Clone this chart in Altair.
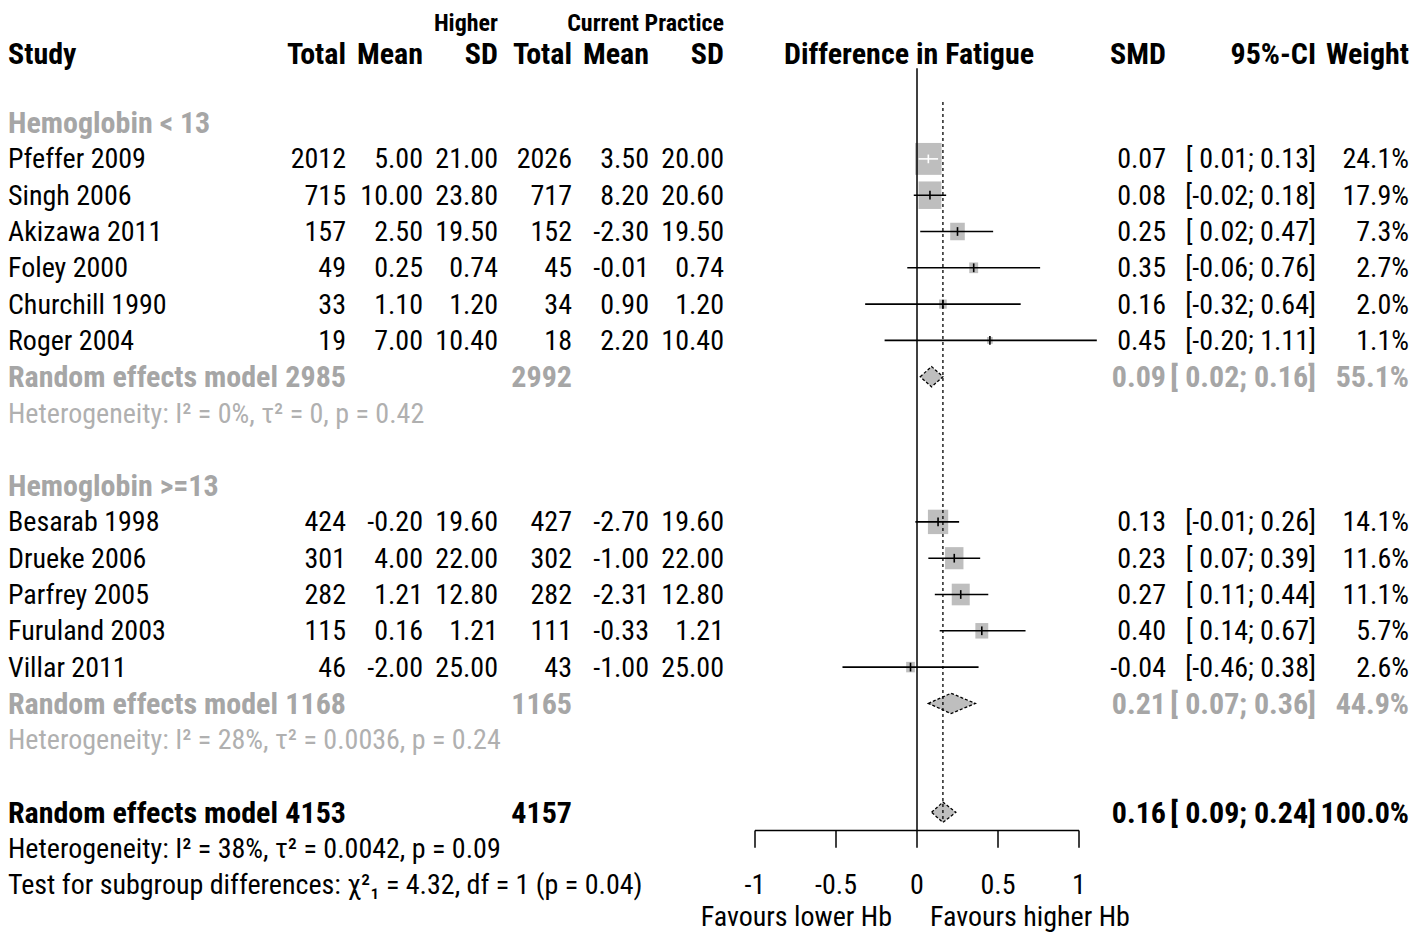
import altair as alt
import pandas as pd
import math

# ---------------- data ----------------
studies = ["Pfeffer 2009", "Singh 2006", "Akizawa 2011", "Foley 2000", "Churchill 1990", "Roger 2004",
           "Besarab 1998", "Drueke 2006", "Parfrey 2005", "Furuland 2003", "Villar 2011"]
n_high = [2012, 715, 157, 49, 33, 19, 424, 301, 282, 115, 46]
mean_high = [5.00, 10.00, 2.50, 0.25, 1.10, 7.00, -0.20, 4.00, 1.21, 0.16, -2.00]
sd_high = [21.00, 23.80, 19.50, 0.74, 1.20, 10.40, 19.60, 22.00, 12.80, 1.21, 25.00]
n_cur = [2026, 717, 152, 45, 34, 18, 427, 302, 282, 111, 43]
mean_cur = [3.50, 8.20, -2.30, -0.01, 0.90, 2.20, -2.70, -1.00, -2.31, -0.33, -1.00]
sd_cur = [20.00, 20.60, 19.50, 0.74, 1.20, 10.40, 19.60, 22.00, 12.80, 1.21, 25.00]
smd = [0.07, 0.08, 0.25, 0.35, 0.16, 0.45, 0.13, 0.23, 0.27, 0.40, -0.04]
lower = [0.01, -0.02, 0.02, -0.06, -0.32, -0.20, -0.01, 0.07, 0.11, 0.14, -0.46]
upper = [0.13, 0.18, 0.47, 0.76, 0.64, 1.11, 0.26, 0.39, 0.44, 0.67, 0.38]
weight = [24.1, 17.9, 7.3, 2.7, 2.0, 1.1, 14.1, 11.6, 11.1, 5.7, 2.6]

subgroups = ["Hemoglobin < 13", "Hemoglobin >=13"]
pooled_label = ["Random effects model", "Random effects model", "Random effects model"]
pooled_n_high = [2985, 1168, 4153]
pooled_n_cur = [2992, 1165, 4157]
pooled_smd = [0.09, 0.21, 0.16]
pooled_lower = [0.02, 0.07, 0.09]
pooled_upper = [0.16, 0.36, 0.24]
pooled_weight = [55.1, 44.9, 100.0]
het_texts = ["Heterogeneity: I² = 0%, τ² = 0, p = 0.42",
             "Heterogeneity: I² = 28%, τ² = 0.0036, p = 0.24",
             "Heterogeneity: I² = 38%, τ² = 0.0042, p = 0.09"]
test_text = "Test for subgroup differences: χ²₁ = 4.32, df = 1 (p = 0.04)"
overall_smd = 0.16
axis_ticks = [-1, -0.5, 0, 0.5, 1]
tick_labels = ["-1", "-0.5", "0", "0.5", "1"]
favours = ["Favours lower Hb", "Favours higher Hb"]

# ---------------- layout ----------------
W, H = 1402, 927
PX0, PXU = 909.0, 162.0          # pixel of SMD 0, pixels per SMD unit
RY0, RYU = 42.0, 36.3            # pixel of row 0, pixels per row
x_dom = [(0 - PX0) / PXU, (W - PX0) / PXU]
y_dom = [(0 - RY0) / RYU, (H - RY0) / RYU]
xs = alt.Scale(domain=x_dom, nice=False, zero=False)
ys = alt.Scale(domain=y_dom, nice=False, zero=False, reverse=True)

group_header_row = -0.72
col_header_row = 0.10
study_rows = [3, 4, 5, 6, 7, 8, 13, 14, 15, 16, 17]
sub_rows = [2, 12]
pooled_rows = [9, 18, 21]
het_rows = [10, 19, 22]
test_row = 23
favours_row = 23.88
col_px = {"study": 0, "n1": 338, "m1": 415, "s1": 490, "n2": 564, "m2": 641, "s2": 716,
          "smd": 1158, "ci": 1308, "w": 1401}

FONT = "Liberation Sans Narrow, Arial Narrow, Roboto Condensed, DejaVu Sans Condensed, sans-serif"
FS = 28
FSB = 30
FSH = 24
BLACK = "#000000"
GRAY = "#a6a6a6"
HGRAY = "#b0b0b0"
BOXGRAY = "#bebebe"


def px2x(p):
    return (p - PX0) / PXU


def fmt_ci(lo, up):
    a = f"[ {lo:.2f}" if lo >= 0 else f"[{lo:.2f}"
    return f"{a}; {up:.2f}]"


cells = []


def add(align, bold, row, x, text, color=BLACK):
    cells.append(dict(al=align, bd=bold, row=row, x=x, text=text, color=color))


# column headers
add("left", True, col_header_row, px2x(0), "Study")
for k, t in [("n1", "Total"), ("m1", "Mean"), ("s1", "SD"), ("n2", "Total"), ("m2", "Mean"), ("s2", "SD"),
             ("smd", "SMD"), ("ci", "95%-CI"), ("w", "Weight")]:
    add("right", True, col_header_row, px2x(col_px[k]), t)
add("center", True, col_header_row, px2x(901), "Difference in Fatigue")

for r, s in zip(sub_rows, subgroups):
    add("left", True, r, px2x(0), s, GRAY)

for i, r in enumerate(study_rows):
    add("left", False, r, px2x(0), studies[i])
    add("right", False, r, px2x(col_px["n1"]), str(n_high[i]))
    add("right", False, r, px2x(col_px["m1"]), f"{mean_high[i]:.2f}")
    add("right", False, r, px2x(col_px["s1"]), f"{sd_high[i]:.2f}")
    add("right", False, r, px2x(col_px["n2"]), str(n_cur[i]))
    add("right", False, r, px2x(col_px["m2"]), f"{mean_cur[i]:.2f}")
    add("right", False, r, px2x(col_px["s2"]), f"{sd_cur[i]:.2f}")
    add("right", False, r, px2x(col_px["smd"]), f"{smd[i]:.2f}")
    add("right", False, r, px2x(col_px["ci"]), fmt_ci(lower[i], upper[i]))
    add("right", False, r, px2x(col_px["w"]), f"{weight[i]:.1f}%")

for j, r in enumerate(pooled_rows):
    c = GRAY if j < 2 else BLACK
    add("left", True, r, px2x(0), pooled_label[j], c)
    add("right", True, r, px2x(col_px["n1"]), str(pooled_n_high[j]), c)
    add("right", True, r, px2x(col_px["n2"]), str(pooled_n_cur[j]), c)
    add("right", True, r, px2x(col_px["smd"]), f"{pooled_smd[j]:.2f}", c)
    add("right", True, r, px2x(col_px["ci"]), fmt_ci(pooled_lower[j], pooled_upper[j]), c)
    add("right", True, r, px2x(col_px["w"]), f"{pooled_weight[j]:.1f}%", c)

for j, r in enumerate(het_rows):
    add("left", False, r, px2x(0), het_texts[j], HGRAY if j < 2 else BLACK)
add("left", False, test_row, px2x(0), test_text)

for t, lab in zip(axis_ticks, tick_labels):
    add("center", False, 23, t, lab)
add("right", False, favours_row, px2x(884), favours[0])
add("left", False, favours_row, px2x(922), favours[1])

cells_df = pd.DataFrame(cells)

group_hdr_df = pd.DataFrame(dict(row=[group_header_row] * 2, x=[px2x(490), px2x(716)],
                                 text=["Higher", "Current Practice"]))


def text_layer(align, bold):
    d = cells_df[(cells_df["al"] == align) & (cells_df["bd"] == bold)].drop(columns=["al", "bd"])
    return alt.Chart(d).mark_text(
        align=align, baseline="middle", font=FONT, fontSize=FSB if bold else FS,
        fontWeight="bold" if bold else "normal", dy=1.5
    ).encode(
        x=alt.X("x:Q", scale=xs, axis=None),
        y=alt.Y("row:Q", scale=ys, axis=None),
        text="text:N",
        color=alt.Color("color:N", scale=None),
    )


group_hdr = alt.Chart(group_hdr_df).mark_text(
    align="right", baseline="middle", font=FONT, fontSize=FSH, fontWeight="bold", color=BLACK
).encode(
    x=alt.X("x:Q", scale=xs, axis=None),
    y=alt.Y("row:Q", scale=ys, axis=None),
    text="text:N",
)

# study marks
BW, BH = 2.7, 3.25  # half box size in px per sqrt(weight)
rows_df = pd.DataFrame(dict(row=study_rows, smd=smd, lower=lower, upper=upper, weight=weight))
half_w = [BW * math.sqrt(w) / PXU for w in weight]
rows_df["ci_color"] = [
    "#ffffff" if (lo >= m - hw and up <= m + hw) else BLACK
    for lo, up, m, hw in zip(lower, upper, smd, half_w)
]

boxes = alt.Chart(rows_df).transform_calculate(
    x1=f"datum.smd - {BW}*sqrt(datum.weight)/{PXU}",
    x2=f"datum.smd + {BW}*sqrt(datum.weight)/{PXU}",
    y1=f"datum.row - {BH}*sqrt(datum.weight)/{RYU}",
    y2=f"datum.row + {BH}*sqrt(datum.weight)/{RYU}",
).mark_rect(color=BOXGRAY).encode(
    x=alt.X("x1:Q", scale=xs, axis=None), x2="x2:Q",
    y=alt.Y("y1:Q", scale=ys, axis=None), y2="y2:Q",
)

ci_lines = alt.Chart(rows_df).mark_rule(strokeWidth=1.6).encode(
    x=alt.X("lower:Q", scale=xs, axis=None), x2="upper:Q",
    y=alt.Y("row:Q", scale=ys, axis=None),
    color=alt.Color("ci_color:N", scale=None),
)

est_ticks = alt.Chart(rows_df).transform_calculate(
    t1="datum.row - 0.12", t2="datum.row + 0.12"
).mark_rule(strokeWidth=1.6).encode(
    x=alt.X("smd:Q", scale=xs, axis=None),
    y=alt.Y("t1:Q", scale=ys, axis=None), y2="t2:Q",
    color=alt.Color("ci_color:N", scale=None),
)

# diamonds
dia = []
DH = 0.28
for j, r in enumerate(pooled_rows):
    dia.append(dict(id=j, x=pooled_lower[j], ya=r, yb=r))
    dia.append(dict(id=j, x=pooled_smd[j], ya=r - DH, yb=r + DH))
    dia.append(dict(id=j, x=pooled_upper[j], ya=r, yb=r))
dia_df = pd.DataFrame(dia)
diamonds = alt.Chart(dia_df).mark_area(
    orient="vertical", fill=BOXGRAY, stroke=BLACK, strokeWidth=1.3, strokeDash=[3, 2], fillOpacity=1
).encode(
    x=alt.X("x:Q", scale=xs, axis=None),
    y=alt.Y("ya:Q", scale=ys, axis=None), y2="yb:Q",
    detail="id:N",
)

# reference lines and axis
zero_line = alt.Chart(pd.DataFrame(dict(x=[0], r1=[0.5], r2=[21.5]))).mark_rule(
    color=BLACK, strokeWidth=1.5
).encode(x=alt.X("x:Q", scale=xs, axis=None), y=alt.Y("r1:Q", scale=ys, axis=None), y2="r2:Q")

dash_line = alt.Chart(pd.DataFrame(dict(x=[overall_smd], r1=[1.43], r2=[21.2]))).mark_rule(
    color=BLACK, strokeWidth=1.3, strokeDash=[3, 3]
).encode(x=alt.X("x:Q", scale=xs, axis=None), y=alt.Y("r1:Q", scale=ys, axis=None), y2="r2:Q")

axis_line = alt.Chart(pd.DataFrame(dict(a=[min(axis_ticks)], b=[max(axis_ticks)], r=[21.5]))).mark_rule(
    color=BLACK, strokeWidth=1.5
).encode(x=alt.X("a:Q", scale=xs, axis=None), x2="b:Q", y=alt.Y("r:Q", scale=ys, axis=None))

tick_df = pd.DataFrame(dict(x=axis_ticks, r1=[21.5] * 5, r2=[21.98] * 5))
axis_tick_marks = alt.Chart(tick_df).mark_rule(color=BLACK, strokeWidth=1.5).encode(
    x=alt.X("x:Q", scale=xs, axis=None), y=alt.Y("r1:Q", scale=ys, axis=None), y2="r2:Q"
)

layers = [boxes, diamonds, zero_line, dash_line, ci_lines, est_ticks, axis_line, axis_tick_marks, group_hdr]
for al in ["left", "right", "center"]:
    for b in [False, True]:
        if len(cells_df[(cells_df["al"] == al) & (cells_df["bd"] == b)]):
            layers.append(text_layer(al, b))

chart = alt.layer(*layers).properties(
    width=W, height=H, autosize=alt.AutoSizeParams(type="none"), padding=0
).configure_view(stroke=None)

chart.save("out.html", embed_options={"renderer": "svg", "actions": False})
